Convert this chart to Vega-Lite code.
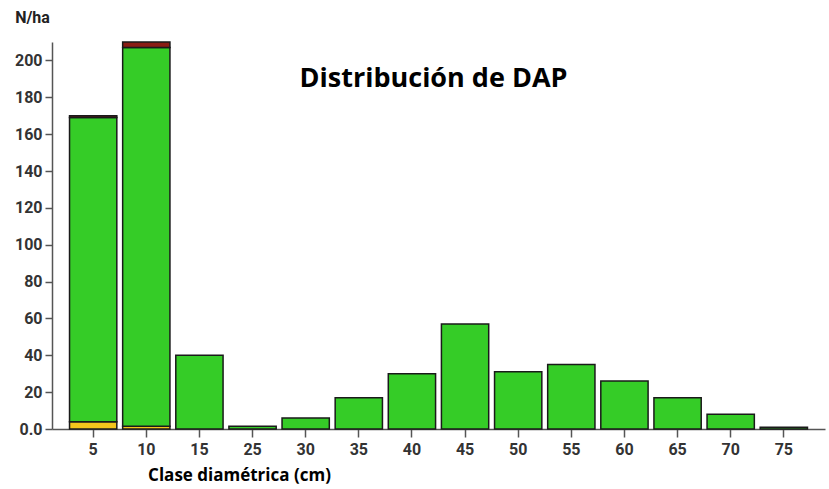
{
  "$schema": "https://vega.github.io/schema/vega-lite/v6.json",
  "width": 773,
  "height": 387,
  "autosize": "none",
  "padding": {"left": 52, "top": 42, "right": 4, "bottom": 60},
  "background": "white",
  "title": {
    "text": "Distribución de DAP",
    "font": "Open Sans",
    "fontSize": 27,
    "fontWeight": "bold",
    "color": "#000000",
    "anchor": "middle",
    "dx": -5,
    "dy": 84,
    "offset": 0
  },
  "data": {
    "values": [
      {"clase": "5", "tipo": "a", "orden": 1, "n": 4},
      {"clase": "5", "tipo": "b", "orden": 2, "n": 165},
      {"clase": "5", "tipo": "c", "orden": 3, "n": 1},
      {"clase": "10", "tipo": "a", "orden": 1, "n": 1.5},
      {"clase": "10", "tipo": "b", "orden": 2, "n": 205.5},
      {"clase": "10", "tipo": "c", "orden": 3, "n": 3},
      {"clase": "15", "tipo": "b", "orden": 2, "n": 40},
      {"clase": "25", "tipo": "b", "orden": 2, "n": 1.5},
      {"clase": "30", "tipo": "b", "orden": 2, "n": 6},
      {"clase": "35", "tipo": "b", "orden": 2, "n": 17},
      {"clase": "40", "tipo": "b", "orden": 2, "n": 30},
      {"clase": "45", "tipo": "b", "orden": 2, "n": 57},
      {"clase": "50", "tipo": "b", "orden": 2, "n": 31},
      {"clase": "55", "tipo": "b", "orden": 2, "n": 35},
      {"clase": "60", "tipo": "b", "orden": 2, "n": 26},
      {"clase": "65", "tipo": "b", "orden": 2, "n": 17},
      {"clase": "70", "tipo": "b", "orden": 2, "n": 8},
      {"clase": "75", "tipo": "b", "orden": 2, "n": 1}
    ]
  },
  "mark": {"type": "bar", "stroke": "#1a1a1a", "strokeWidth": 1.5},
  "encoding": {
    "x": {
      "field": "clase",
      "type": "ordinal",
      "sort": ["5","10","15","25","30","35","40","45","50","55","60","65","70","75"],
      "scale": {"paddingInner": 0.11, "paddingOuter": 0.33},
      "axis": {
        "title": "Clase diamétrica (cm)",
        "titleFont": "Open Sans",
        "titleFontSize": 17,
        "titleFontWeight": "bold",
        "titleColor": "#000000",
        "titleAnchor": "middle",
        "titleX": 187,
        "titleY": 46,
        "titleBaseline": "middle",
        "labelAngle": 0,
        "labelFont": "Roboto",
        "labelFontSize": 16,
        "labelFontWeight": "bold",
        "labelColor": "#333333",
        "labelPadding": 4,
        "tickSize": 8,
        "tickColor": "#555555",
        "tickWidth": 1.5,
        "domainColor": "#555555",
        "domainWidth": 1.5
      }
    },
    "y": {
      "field": "n",
      "type": "quantitative",
      "aggregate": "sum",
      "stack": "zero",
      "scale": {"domain": [0, 210], "nice": false},
      "axis": {
        "title": "N/ha",
        "titleAngle": 0,
        "titleX": -20,
        "titleY": -25,
        "titleAlign": "center",
        "titleBaseline": "middle",
        "titleFont": "Roboto",
        "titleFontSize": 16,
        "titleFontWeight": "bold",
        "titleColor": "#222222",
        "values": [0,20,40,60,80,100,120,140,160,180,200],
        "labelExpr": "datum.value == 0 ? '0.0' : datum.label",
        "labelFont": "Roboto",
        "labelFontSize": 16,
        "labelFontWeight": "bold",
        "labelColor": "#333333",
        "labelPadding": 3,
        "tickSize": 7,
        "tickColor": "#555555",
        "tickWidth": 1.5,
        "domainColor": "#555555",
        "domainWidth": 1.5,
        "grid": false
      }
    },
    "color": {
      "field": "tipo",
      "type": "nominal",
      "scale": {"domain": ["a","b","c"], "range": ["#f4c51c", "#35cc27", "#8a1c14"]},
      "legend": null
    },
    "order": {"field": "orden", "type": "quantitative"}
  },
  "config": {"view": {"stroke": null}}
}
